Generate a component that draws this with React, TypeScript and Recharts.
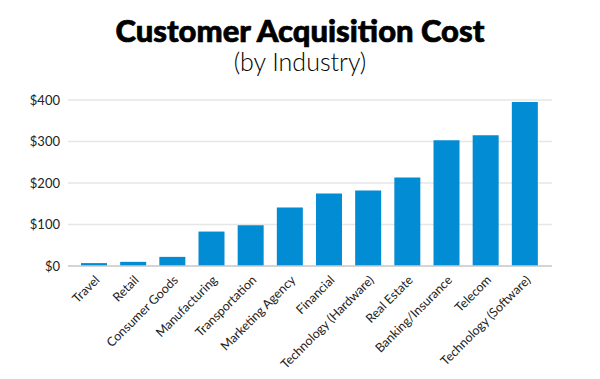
import { BarChart, Bar, XAxis, YAxis, CartesianGrid } from 'recharts';

const industries = [
  'Travel', 'Retail', 'Consumer Goods', 'Manufacturing', 'Transportation',
  'Marketing Agency', 'Financial', 'Technology (Hardware)', 'Real Estate',
  'Banking/Insurance', 'Telecom', 'Technology (Software)',
];
const costs = [7, 10, 22, 83, 98, 141, 175, 182, 213, 303, 315, 395];
const yTicks = [0, 100, 200, 300, 400];

const data = industries.map((name, i) => ({ name, cost: costs[i] }));

const AngledTick = (props: any) => {
  const { x, y, payload } = props;
  return (
    <g transform={`translate(${x + 4},${y + 4})`}>
      <text
        transform="rotate(-45)"
        textAnchor="end"
        dy={4}
        fontSize={12.5}
        fill="#222"
        fontFamily="Lato, sans-serif"
      >
        {payload.value}
      </text>
    </g>
  );
};

export default function App() {
  return (
    <div style={{ position: 'absolute', left: 0, top: 0, width: 600, height: 379, background: '#fff' }}>
      <div style={{
        position: 'absolute', top: 12, width: 600, textAlign: 'center', lineHeight: '36px',
        fontFamily: 'Lato, sans-serif', fontWeight: 900, fontSize: 31, color: '#000',
        WebkitTextStroke: '0.7px #000',
      }}>
        Customer Acquisition Cost
      </div>
      <div style={{
        position: 'absolute', top: 46, width: 600, textAlign: 'center', lineHeight: '30px',
        fontFamily: 'Lato, sans-serif', fontWeight: 300, fontSize: 25, color: '#000',
      }}>
        (by Industry)
      </div>
      <BarChart
        width={600}
        height={379}
        data={data}
        margin={{ top: 100, right: 48, left: 8, bottom: 0 }}
      >
        <CartesianGrid vertical={false} stroke="#e6e6e6" strokeWidth={1.5} />
        <XAxis
          dataKey="name"
          interval={0}
          tickLine={false}
          axisLine={{ stroke: '#cccccc', strokeWidth: 1.5 }}
          tick={<AngledTick />}
          height={113}
          padding={{ left: 6, right: 8 }}
        />
        <YAxis
          width={60}
          domain={[0, 400]}
          ticks={yTicks}
          tickFormatter={(v: number) => `$${v}`}
          axisLine={false}
          tickLine={false}
          tick={{ fontSize: 13, fill: '#222', fontFamily: 'Lato, sans-serif' }}
        />
        <Bar dataKey="cost" fill="#028cd4" barSize={26} isAnimationActive={false} />
      </BarChart>
    </div>
  );
}
